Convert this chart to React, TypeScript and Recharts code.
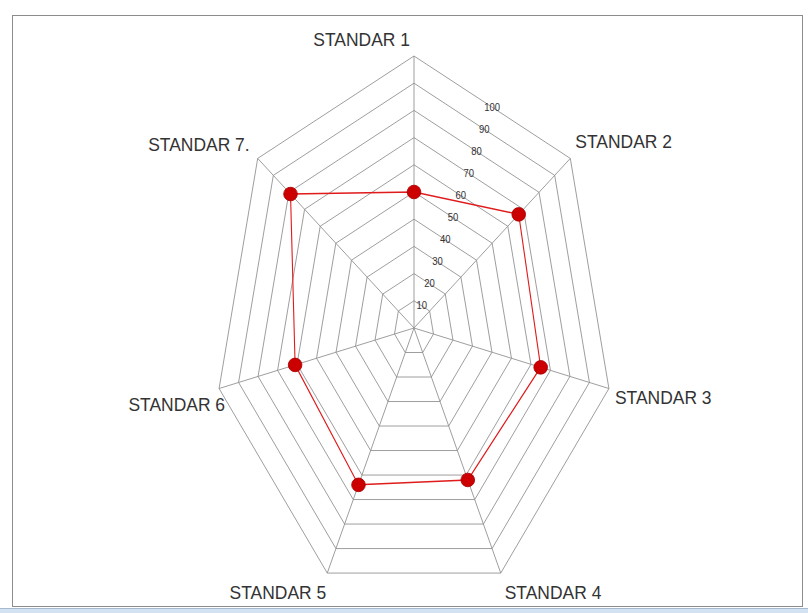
import { RadarChart, Radar, PolarGrid, PolarAngleAxis, PolarRadiusAxis } from "recharts";

const standards = ["STANDAR 1", "STANDAR 2", "STANDAR 3", "STANDAR 4", "STANDAR 5", "STANDAR 6", "STANDAR 7."];
const scores = [50, 67, 65, 62, 64, 61, 79];
const radiusTicks = [0, 10, 20, 30, 40, 50, 60, 70, 80, 90, 100];

const data = standards.map((name, i) => ({ name, score: scores[i] }));

const W = 808;
const H = 613;
const CX = 414;
const CY = 328;
const R = 272;
// the original picture is squeezed horizontally
const SX = 0.735;
const TEXT_SX = 0.97;
const CHART_W = 1000;

// label offsets from the outer vertex, in screen px
const labelOffsets = [
    { dx: -4, dy: -9.5, anchor: "end" },
    { dx: 5, dy: -10.5, anchor: "start" },
    { dx: 6, dy: 15.5, anchor: "start" },
    { dx: 4, dy: 25.5, anchor: "start" },
    { dx: -1, dy: 25.5, anchor: "end" },
    { dx: 6, dy: 22.5, anchor: "end" },
    { dx: -8, dy: -7.5, anchor: "end" },
];

const squash = (x: number, y: number, s: number) =>
    `translate(${x} ${y}) scale(${s / SX} 1) translate(${-x} ${-y})`;

const AngleTick = (props: any) => {
    const { x, y, payload } = props;
    const i = standards.indexOf(payload.value);
    const off = labelOffsets[i] || { dx: 0, dy: 0, anchor: "middle" };
    const ddx = x - CX;
    const ddy = y - CY;
    const len = Math.hypot(ddx, ddy) || 1;
    const vx = CX + (ddx / len) * R;
    const vy = CY + (ddy / len) * R;
    const fx = CX + (vx - CX) * SX + off.dx;
    const fy = vy + off.dy;
    const ux = CX + (fx - CX) / SX;
    return (
        <text
            x={ux}
            y={fy}
            textAnchor={off.anchor as any}
            transform={squash(ux, fy, TEXT_SX)}
            fontSize={18}
            fontFamily="'Liberation Sans', Arial, sans-serif"
            fill="#333"
        >
            {payload.value}
        </text>
    );
};

const RadiusTick = (props: any) => {
    const { x, y, payload } = props;
    if (payload.value === 0) return <g />;
    const c = Math.cos(Math.PI / 7);
    const px = CX + (x - CX) * c;
    const py = CY + (y - CY) * c;
    return (
        <text
            x={px}
            y={py}
            textAnchor="middle"
            dominantBaseline="central"
            transform={squash(px, py, 0.95)}
            fontSize={10}
            fontFamily="'Liberation Sans', Arial, sans-serif"
            fill="#333"
        >
            {payload.value}
        </text>
    );
};

const Dot = (props: any) => {
    const { cx, cy } = props;
    return <ellipse key={`${cx}-${cy}`} cx={cx} cy={cy} rx={6.8 / SX} ry={6.8} fill="#cc0000" stroke="#a80000" strokeWidth={1} />;
};

export default function App() {
    return (
        <div style={{ position: "fixed", left: 0, top: 0, width: W, height: H, overflow: "hidden", background: "#fff" }}>
            <div
                style={{
                    position: "absolute",
                    left: 12,
                    top: 15,
                    width: 791,
                    height: 592,
                    boxSizing: "border-box",
                    border: "1px solid #8c8c8c",
                }}
            />
            <div
                style={{
                    position: "absolute",
                    left: 0,
                    top: 0,
                    transform: `scaleX(${SX})`,
                    transformOrigin: `${CX}px 0px`,
                }}
            >
                <RadarChart width={CHART_W} height={H} data={data} cx={CX} cy={CY} outerRadius={R} startAngle={90} endAngle={-270}>
                    <PolarGrid gridType="polygon" stroke="#8f8f8f" strokeWidth={1} />
                    <PolarAngleAxis dataKey="name" tick={(p: any) => <AngleTick {...p} />} tickLine={false} axisLine={false} />
                    <PolarRadiusAxis
                        type="number"
                        angle={90 - 180 / 7}
                        domain={[0, 100]}
                        ticks={radiusTicks as any}
                        tickCount={11}
                        axisLine={false}
                        tick={(p: any) => <RadiusTick {...p} />}
                    />
                    <Radar
                        dataKey="score"
                        stroke="#e01b1b"
                        strokeWidth={1.5}
                        fill="none"
                        fillOpacity={0}
                        dot={(p: any) => <Dot {...p} />}
                        isAnimationActive={false}
                    />
                </RadarChart>
            </div>
            <div
                style={{
                    position: "absolute",
                    left: 0,
                    top: 608,
                    width: W,
                    height: 5,
                    background: "#d3e3f4",
                    borderTop: "1px solid #a7b9cc",
                }}
            />
        </div>
    );
}
